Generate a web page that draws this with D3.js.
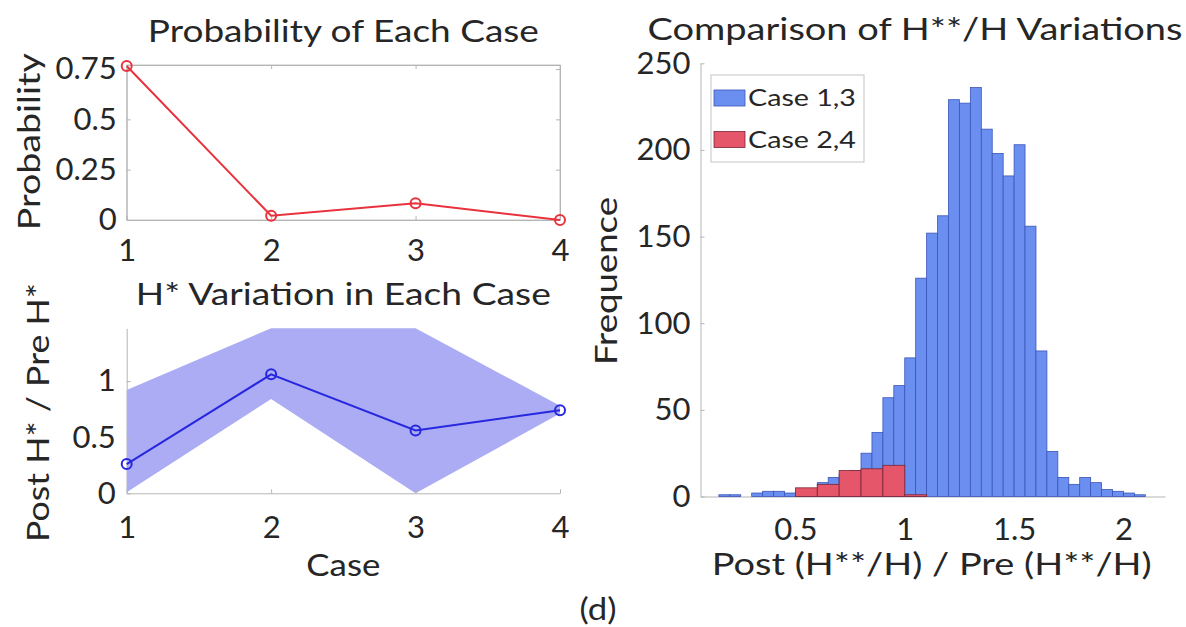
<!DOCTYPE html>
<html>
<head>
<meta charset="utf-8">
<script src="https://cdn.jsdelivr.net/npm/d3@7"></script>
<style>
  body { margin: 0; background: #fff; }
  svg text { font-family: Lato, "Open Sans", sans-serif; fill: #262626; }
  .axis path, .axis line { stroke: #b5b5b5; stroke-width: 1; }
  .axis text { font-size: 31px; }
</style>
</head>
<body>
<svg id="fig" width="1186" height="627"></svg>
<script>
//  values
const cases = [1, 2, 3, 4];
const probability = [0.765, 0.021, 0.083, 0];

const hStarMean = [0.26, 1.06, 0.56, 0.74];
const hStarUpper = [0.92, 1.47, 1.47, 0.78];
const hStarLower = [0.01, 0.84, 0.0, 0.71];

//  histogram bins (left edges) and counts
const case13Width = 0.05;
const case13Edges = [0.15, 0.20, 0.25, 0.30, 0.35, 0.40, 0.45, 0.50, 0.55, 0.60,
    0.65, 0.70, 0.75, 0.80, 0.85, 0.90, 0.95, 1.00, 1.05, 1.10,
    1.15, 1.20, 1.25, 1.30, 1.35, 1.40, 1.45, 1.50, 1.55, 1.60,
    1.65, 1.70, 1.75, 1.80, 1.85, 1.90, 1.95, 2.00, 2.05];
const case13Counts = [1, 1, 0, 2, 3, 3, 2, 3, 4, 8,
    11, 13, 15, 25, 37, 57, 64, 80, 126, 152,
    162, 229, 227, 236, 212, 198, 185, 203, 156, 84,
    26, 11, 7, 11, 8, 4, 3, 2, 1];

const case24Width = 0.1;
const case24Edges = [0.5, 0.6, 0.7, 0.8, 0.9, 1.0];
const case24Counts = [5, 7, 15, 16, 18, 1];

const probTicks = [0, 0.25, 0.5, 0.75];
const hStarTicks = [0, 0.5, 1];
const freqTicks = [0, 50, 100, 150, 200, 250];
const ratioTicks = [0.5, 1, 1.5, 2];

const legendLabels = ["Case 1,3", "Case 2,4"];

const colors = {
    probLine: "#e8323c",
    hStarLine: "#2727e0",
    band: "#abacf4",
    case13: "#6b8ff0",
    case13Edge: "#3a55b8",
    case24: "#e6566a",
    case24Edge: "#7a2636"
};

const svg = d3.select("#fig");

//  the source font is wider than Lato, so labels get stretched to their measured width
function addText(x, y, str, size, width, rotate) {
    const t = svg.append("text")
        .attr("transform", rotate ? `translate(${x},${y}) rotate(-90)` : `translate(${x},${y})`)
        .attr("text-anchor", "middle")
        .style("font-size", size + "px")
        .text(str);
    if (width) t.attr("textLength", width).attr("lengthAdjust", "spacingAndGlyphs");
    return t;
}

//  ---- panel 1 : probability of each case
const p1 = {left: 126.7, right: 560, top: 65, bottom: 220};
const x1 = d3.scaleLinear().domain([1, 4]).range([p1.left, p1.right]);
const y1 = d3.scaleLinear().domain([0, 0.77]).range([p1.bottom, p1.top]);

svg.append("rect").attr("x", p1.left).attr("y", p1.top)
    .attr("width", p1.right - p1.left).attr("height", p1.bottom - p1.top)
    .attr("fill", "none").attr("stroke", "#c4c4c4");

svg.append("g").attr("class", "axis").attr("transform", `translate(0,${p1.bottom})`)
    .call(d3.axisBottom(x1).tickValues(cases).tickFormat(d3.format("d")).tickSizeInner(-4).tickSizeOuter(0).tickPadding(19));
svg.append("g").attr("class", "axis").attr("transform", `translate(0,${p1.top})`)
    .call(d3.axisTop(x1).tickValues(cases).tickFormat("").tickSizeInner(-4).tickSizeOuter(0));
svg.append("g").attr("class", "axis").attr("transform", `translate(${p1.left},0)`)
    .call(d3.axisLeft(y1).tickValues(probTicks).tickFormat(String).tickSizeInner(-4).tickSizeOuter(0).tickPadding(10));
svg.append("g").attr("class", "axis").attr("transform", `translate(${p1.right},0)`)
    .call(d3.axisRight(y1).tickValues(probTicks).tickFormat("").tickSizeInner(-4).tickSizeOuter(0));

svg.append("path").datum(cases)
    .attr("d", d3.line().x(d => x1(d)).y((d, i) => y1(probability[i])))
    .attr("fill", "none").attr("stroke", colors.probLine).attr("stroke-width", 2);
svg.selectAll(".probDot").data(cases).join("circle").attr("class", "probDot")
    .attr("cx", d => x1(d)).attr("cy", (d, i) => y1(probability[i])).attr("r", 5)
    .attr("fill", "none").attr("stroke", colors.probLine).attr("stroke-width", 2);

addText((p1.left + p1.right) / 2, 42, "Probability of Each Case", 31, 391);
addText(40, 141.7, "Probability", 31, 177, true);

//  ---- panel 2 : H* variation in each case
const p2 = {left: 126.7, right: 560, top: 328.3, bottom: 493.3};
const x2 = d3.scaleLinear().domain([1, 4]).range([p2.left, p2.right]);
const y2 = d3.scaleLinear().domain([0, 1.47]).range([p2.bottom, p2.top]);

svg.append("path").datum(cases)
    .attr("d", d3.area().x(d => x2(d)).y0((d, i) => y2(hStarLower[i])).y1((d, i) => y2(hStarUpper[i])))
    .attr("fill", colors.band);

svg.append("g").attr("class", "axis").attr("transform", `translate(0,${p2.bottom})`)
    .call(d3.axisBottom(x2).tickValues(cases).tickFormat(d3.format("d")).tickSizeInner(-4).tickSizeOuter(0).tickPadding(23));
svg.append("g").attr("class", "axis").attr("transform", `translate(${p2.left},0)`)
    .call(d3.axisLeft(y2).tickValues(hStarTicks).tickFormat(String).tickSizeInner(-4).tickSizeOuter(0).tickPadding(11));

svg.append("path").datum(cases)
    .attr("d", d3.line().x(d => x2(d)).y((d, i) => y2(hStarMean[i])))
    .attr("fill", "none").attr("stroke", colors.hStarLine).attr("stroke-width", 2);
svg.selectAll(".hDot").data(cases).join("circle").attr("class", "hDot")
    .attr("cx", d => x2(d)).attr("cy", (d, i) => y2(hStarMean[i])).attr("r", 5)
    .attr("fill", "none").attr("stroke", colors.hStarLine).attr("stroke-width", 2);

addText((p2.left + p2.right) / 2, 305, "H* Variation in Each Case", 31, 415);
addText(49, 412.5, "Post H* / Pre H*", 31, 259, true);
addText((p2.left + p2.right) / 2, 576, "Case", 31, 74);

//  ---- panel 3 : histogram
const p3 = {left: 700.5, right: 1165, top: 63.3, bottom: 496.5};
const x3 = d3.scaleLinear().domain([0.066, 2.19]).range([p3.left, p3.right]);
const y3 = d3.scaleLinear().domain([0, 250]).range([p3.bottom, p3.top]);

svg.append("g").attr("class", "axis").attr("transform", `translate(0,${p3.bottom})`)
    .call(d3.axisBottom(x3).tickValues(ratioTicks).tickFormat(String).tickSizeInner(-4).tickSizeOuter(0).tickPadding(21));
svg.append("g").attr("class", "axis").attr("transform", `translate(${p3.left},0)`)
    .call(d3.axisLeft(y3).tickValues(freqTicks).tickFormat(String).tickSizeInner(-4).tickSizeOuter(0).tickPadding(10));

svg.selectAll(".bar13").data(case13Edges).join("rect").attr("class", "bar13")
    .attr("x", d => x3(d)).attr("width", d => x3(d + case13Width) - x3(d))
    .attr("y", (d, i) => y3(case13Counts[i])).attr("height", (d, i) => y3(0) - y3(case13Counts[i]))
    .attr("fill", colors.case13).attr("stroke", colors.case13Edge).attr("stroke-width", 0.8);

svg.selectAll(".bar24").data(case24Edges).join("rect").attr("class", "bar24")
    .attr("x", d => x3(d)).attr("width", d => x3(d + case24Width) - x3(d))
    .attr("y", (d, i) => y3(case24Counts[i])).attr("height", (d, i) => y3(0) - y3(case24Counts[i]))
    .attr("fill", colors.case24).attr("stroke", colors.case24Edge).attr("stroke-width", 0.8);

addText(915, 40, "Comparison of H**/H Variations", 31, 535);
addText(617, 281, "Frequence", 31, 168, true);
addText(931.7, 575, "Post (H**/H) / Pre (H**/H)", 31, 440);

//  legend
const legend = svg.append("g").attr("transform", "translate(711,75)");
legend.append("rect").attr("width", 153).attr("height", 87)
    .attr("fill", "#fff").attr("stroke", "#c4c4c4");
const legendFill = [colors.case13, colors.case24];
const legendEdge = [colors.case13Edge, colors.case24Edge];
legendLabels.forEach((lab, i) => {
    legend.append("rect").attr("x", 3).attr("y", 15 + i * 41.5).attr("width", 31).attr("height", 16)
        .attr("fill", legendFill[i]).attr("stroke", legendEdge[i]).attr("stroke-width", 0.8);
    legend.append("text").attr("x", 37).attr("y", 31 + i * 41.5)
        .attr("textLength", 108).attr("lengthAdjust", "spacingAndGlyphs")
        .style("font-size", "24px").text(lab);
});

addText(598, 620, "(d)", 31, 37);
</script>
</body>
</html>
